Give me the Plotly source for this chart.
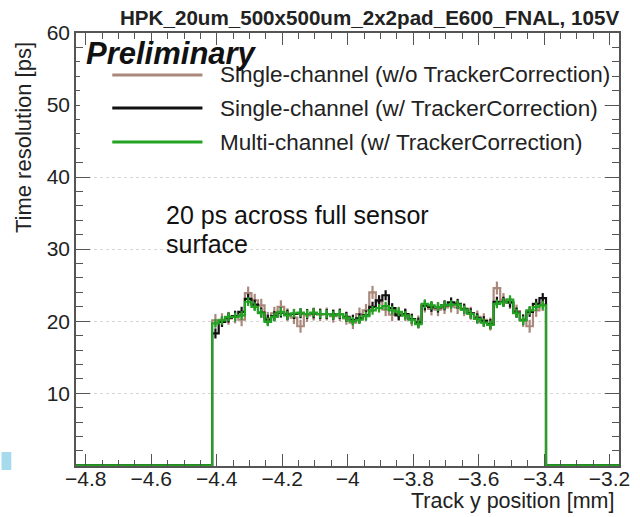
import plotly.graph_objects as go

# ---------------- data ----------------
bin_start = -4.414          # lower edge of first filled bin [mm]
bin_width = 0.02            # bin width [mm]
x_axis_min = -4.830
x_axis_max = -3.171

res_no_tracker = [20.1, 20.2, 20.4, 20.6, 20.2, 23.9, 22.9, 22.2, 20.4, 21.1,
                  22.0, 20.9, 20.5, 19.3, 20.8, 21.0, 20.9, 21.0, 20.7, 20.9,
                  20.4, 19.8, 21.0, 21.5, 24.0, 22.7, 21.6, 20.9, 21.1, 20.9,
                  20.2, 19.9, 22.1, 21.7, 21.6, 21.9, 22.1, 21.9, 21.6, 21.1,
                  20.6, 20.2, 19.6, 24.6, 23.0, 22.6, 21.4, 20.1, 19.3, 21.5,
                  22.3]
res_single = [18.3, 19.9, 20.5, 20.7, 21.3, 23.1, 22.3, 21.2, 20.2, 20.7,
              21.2, 20.9, 21.0, 21.1, 21.0, 21.1, 21.0, 21.0, 20.9, 21.0,
              20.6, 20.2, 20.4, 20.8, 22.0, 22.9, 23.6, 21.8, 20.8, 21.0,
              20.3, 19.8, 22.2, 22.0, 21.9, 22.2, 22.6, 22.4, 21.7, 21.1,
              20.4, 20.0, 19.6, 22.7, 22.7, 22.6, 21.2, 20.2, 21.3, 22.4,
              23.2]
res_multi = [19.7, 20.1, 20.6, 20.6, 20.8, 22.7, 22.0, 21.1, 19.9, 20.6,
             21.3, 20.8, 21.1, 21.2, 21.0, 21.2, 21.0, 21.0, 20.8, 21.0,
             20.5, 20.0, 20.2, 20.7, 21.5, 21.8, 22.1, 21.5, 21.3, 20.8,
             20.2, 19.6, 22.4, 22.2, 22.0, 22.2, 22.3, 22.3, 21.6, 21.0,
             20.3, 19.8, 19.5, 22.4, 22.6, 23.0, 21.1, 20.1, 21.5, 22.0,
             22.2]
err_no_tracker = 0.9
err_single = 0.7
err_multi = 0.6

series_names = ["Single-channel (w/o TrackerCorrection)",
                "Single-channel (w/ TrackerCorrection)",
                "Multi-channel (w/ TrackerCorrection)"]
series_values = [res_no_tracker, res_single, res_multi]
series_errors = [err_no_tracker, err_single, err_multi]
series_colors = ["#aa887b", "#111111", "#22a322"]

x_tick_vals = [-4.8, -4.6, -4.4, -4.2, -4.0, -3.8, -3.6, -3.4, -3.2]
x_tick_text = ["\u22124.8", "\u22124.6", "\u22124.4", "\u22124.2", "\u22124",
               "\u22123.8", "\u22123.6", "\u22123.4", "\u22123.2"]
y_tick_vals = [10, 20, 30, 40, 50, 60]

title_text = "HPK_20um_500x500um_2x2pad_E600_FNAL, 105V"
note_lines = ["20 ps across full sensor", "surface"]

# ---------------- layout geometry ----------------
W, H = 640, 517
L, R, T, B = 76, 10, 33, 51
PW, PH = W - L - R, H - T - B


def px(x):
    return (x - L) / PW


def py(y):
    return (H - B - y) / PH


FONT = "Liberation Sans"

fig = go.Figure()

n = len(res_multi)
edges = [bin_start + bin_width * i for i in range(n + 1)]
centers = [bin_start + bin_width * (i + 0.5) for i in range(n)]

for name, vals, err, col in zip(series_names, series_values, series_errors, series_colors):
    xs = [x_axis_min] + edges + [x_axis_max]
    ys = [0] + list(vals) + [0, 0]
    fig.add_trace(go.Scatter(x=xs, y=ys, mode="lines", line_shape="hv",
                             line=dict(color=col, width=2.2), showlegend=False,
                             hoverinfo="skip"))
    fig.add_trace(go.Scatter(x=centers, y=vals, mode="markers",
                             marker=dict(size=1, color=col),
                             error_y=dict(type="constant", value=err, width=0,
                                          thickness=2.2, color=col),
                             showlegend=False, name=name))

# ---------------- axes ----------------
fig.update_xaxes(range=[x_axis_min, x_axis_max], tickmode="array",
                 tickvals=x_tick_vals, ticktext=x_tick_text,
                 ticks="inside", ticklen=12, tickwidth=1.3, tickcolor="#555",
                 minor=dict(tickmode="linear", tick0=-4.8, dtick=0.05,
                            ticks="inside", ticklen=6, tickwidth=1.3,
                            tickcolor="#555"),
                 showline=True, linecolor="#555", linewidth=1.5,
                 mirror="allticks", showgrid=False, zeroline=False,
                 ticklabelstandoff=-7,
                 tickfont=dict(family=FONT, size=21, color="#222"))
fig.update_yaxes(range=[-0.1, 60], tickmode="array", tickvals=y_tick_vals,
                 ticks="inside", ticklen=14, tickwidth=1.3, tickcolor="#555",
                 minor=dict(tickmode="linear", tick0=0, dtick=2,
                            ticks="inside", ticklen=7, tickwidth=1.3,
                            tickcolor="#555"),
                 showline=True, linecolor="#555", linewidth=1.5,
                 mirror="allticks", showgrid=True, gridcolor="#d6d6d6",
                 griddash="dot", gridwidth=1, zeroline=False,
                 tickfont=dict(family=FONT, size=21, color="#222"))

# legend box (white, hides the grid under the legend)
fig.add_shape(type="rect", xref="paper", yref="paper", layer="above",
              x0=px(80), x1=px(614), y0=py(160), y1=py(60),
              line=dict(width=0), fillcolor="white")

# ---------------- annotations ----------------
ann = []
ann.append(dict(text=title_text, x=px(632), y=py(18), xref="paper", yref="paper",
                xanchor="right", yanchor="middle", showarrow=False,
                font=dict(family=FONT, size=20.6, color="#222", weight="bold")))
ann.append(dict(text="Preliminary", x=px(84), y=py(54), xref="paper", yref="paper",
                xanchor="left", yanchor="middle", showarrow=False,
                font=dict(family=FONT, size=31, color="#111", weight="bold",
                          style="italic")))
legend_rows = [75, 108, 142]
for name, col, yrow in zip(series_names, series_colors, legend_rows):
    fig.add_shape(type="line", xref="paper", yref="paper", layer="above",
                  x0=px(113), x1=px(205), y0=py(yrow), y1=py(yrow),
                  line=dict(color=col, width=3))
    ann.append(dict(text=name, x=px(221), y=py(yrow), xref="paper", yref="paper",
                    xanchor="left", yanchor="middle", showarrow=False,
                    font=dict(family=FONT, size=22.5, color="#222")))
for line_text, yline in zip(note_lines, [215, 244]):
    ann.append(dict(text=line_text, x=px(166), y=py(yline), xref="paper",
                    yref="paper", xanchor="left", yanchor="middle",
                    showarrow=False,
                    font=dict(family=FONT, size=25, color="#111")))
ann.append(dict(text="Track y position [mm]", x=px(628), y=py(501), xref="paper",
                yref="paper", xanchor="right", yanchor="middle", showarrow=False,
                font=dict(family=FONT, size=21.5, color="#222")))
ann.append(dict(text="Time resolution [ps]", x=px(22), y=py(138), xref="paper",
                yref="paper", xanchor="center", yanchor="middle", textangle=-90,
                showarrow=False, font=dict(family=FONT, size=22, color="#222")))

# small light-blue square at the left edge of the screenshot
fig.add_shape(type="rect", xref="paper", yref="paper",
              x0=px(0), x1=px(10), y0=py(470), y1=py(452),
              line=dict(width=0), fillcolor="#a6dbee")

fig.update_layout(width=W, height=H, margin=dict(l=L, r=R, t=T, b=B),
                  paper_bgcolor="white", plot_bgcolor="white",
                  annotations=ann, showlegend=False)

fig.write_html("out.html")
